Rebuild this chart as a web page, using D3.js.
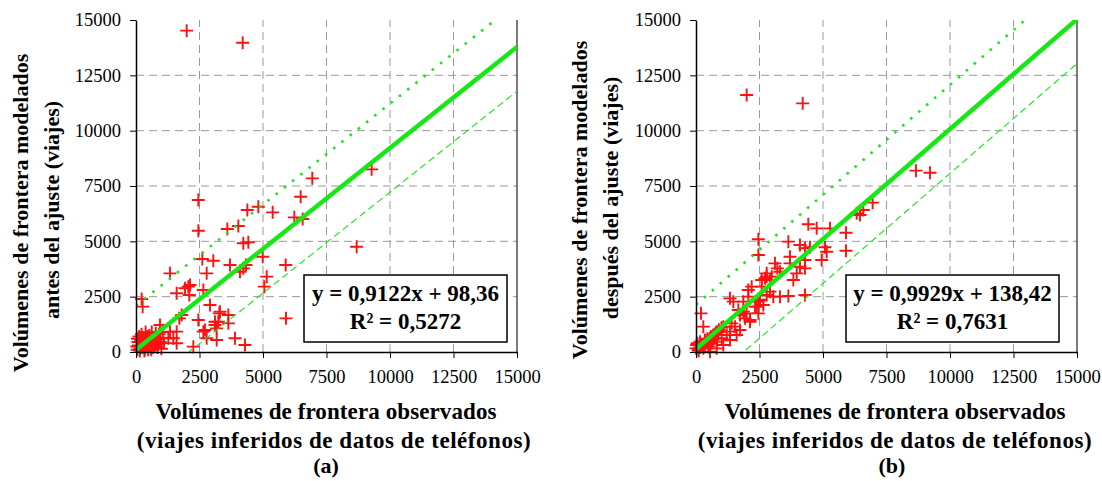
<!DOCTYPE html>
<html>
<head>
<meta charset="utf-8">
<script src="https://cdn.jsdelivr.net/npm/d3@7"></script>
<style>
  body { margin: 0; background: #fff; }
  svg { display: block; }
</style>
</head>
<body>
<svg id="chart" width="1102" height="481"></svg>
<script>
// Shared axis ticks (trips)
const axisTicks = [0, 2500, 5000, 7500, 10000, 12500, 15000];

// Panel (a): modelled border volumes before adjustment vs. observed (phone-inferred) volumes
const obsA = [
  1995, 4200, 9278, 6941, 2454, 6483, 4816, 4383, 5381, 6233, 6562, 3595, 4029, 2454, 4225, 4422,
  8688, 4988, 2612, 3044, 3701, 4331, 5894, 2783, 4094, 4225, 1339, 5145, 5052, 2126, 1929, 1601,
  2100, 2651, 2060, 224, 262, 2913, 3281, 3635, 3307, 1798, 1706, 2454, 3110, 3240, 3635, 5906,
  945, 3176, 3110, 2651, 1601, 2783, 3898, 4291, 2257, 1601, 1273, 1470, 2717, 3176, 1339,
  50, 100, 150, 200, 250, 300, 350, 400, 450, 500, 550, 600, 650, 700, 750, 800, 850, 900, 950, 1000,
  120, 180, 80, 30, 220, 280, 330, 380, 420, 480, 520, 580, 620, 680, 720, 780, 820, 880, 940, 1050,
  1100, 60, 160, 260, 360
];
const modA = [
  14518, 13975, 8253, 7845, 6867, 7017, 6565, 6415, 6310, 6084, 6009, 5557, 5693, 5480, 4911, 4956,
  4757, 4306, 4202, 4125, 3931, 3931, 3931, 3554, 3628, 3780, 3554, 3404, 2952, 3027, 2877, 2651,
  2575, 2801, 2952, 2395, 2048, 2123, 1747, 1672, 1822, 1672, 1521, 1446, 1370, 1370, 1295, 1521,
  1220, 1069, 1220, 919, 919, 618, 618, 316, 241, 392, 618, 618, 994, 542, 919,
  100, 300, 50, 450, 200, 600, 150, 350, 700, 250, 500, 100, 400, 650, 300, 550, 200, 800, 450, 150,
  700, 550, 450, 250, 800, 350, 50, 900, 550, 100, 750, 350, 900, 200, 450, 850, 600, 350, 650, 900,
  400, 600, 150, 650, 450
];

// Panel (b): modelled border volumes after adjustment vs. observed volumes
const obsB = [
  1995, 4200, 8661, 9213, 6955, 6587, 6325, 6457, 4422, 4751, 5276, 5906, 2454, 3635, 4094, 4291,
  4488, 5079, 5145, 4948, 5906, 2454, 3701, 4094, 4291, 3964, 3202, 2980, 2783, 3832, 2586, 2717,
  2192, 2060, 2913, 3044, 3307, 3635, 4291, 2520, 2651, 2323, 2454, 1339, 1470, 1863, 2060, 1667,
  1732, 1863, 2126, 197, 289, 2126, 1929, 1732, 1535, 1339, 1208, 1012, 815, 618, 486, 289, 92,
  1995, 1404, 1076, 879, 682, 551, 354, 157, 26, 0, 1076, 815, 551, 1339, 1601, 2389, 2454, 2783,
  2586, 2913, 2783, 3307, 3110, 3701, 4291,
  100, 200, 300, 400, 500, 600, 700, 800, 900, 1000, 150, 350, 450, 650, 750, 50
];
const modB = [
  11611, 11235, 8193, 8102, 6747, 6415, 6265, 6190, 5769, 5587, 5587, 5391, 5091, 4986, 4834, 4685,
  4730, 4730, 4531, 4157, 4577, 4382, 4306, 3854, 3780, 3554, 3780, 3404, 3404, 3253, 3253, 3329,
  2952, 2801, 2726, 2500, 2500, 2530, 2575, 2349, 2123, 2048, 1747, 2425, 2274, 2274, 2500, 1898,
  1672, 1822, 1446, 1747, 1145, 1370, 1521, 994, 1145, 919, 768, 618, 467, 392, 241, 166, 90,
  1747, 1295, 1145, 919, 768, 618, 542, 467, 316, 166, 316, 166, 15, 542, 768, 2048, 2274, 2575,
  2952, 3253, 3554, 3628, 4005, 4005, 4157,
  50, 300, 250, 450, 400, 700, 600, 900, 1000, 1100, 200, 350, 600, 550, 800, 400
];

// Linear fits and the ±2000-trip band drawn around them
const fitSlopes = [0.9122, 0.9929];
const fitIntercepts = [98.36, 138.42];
const bandOffset = 2000;
const fitLabels = ["y = 0,9122x + 98,36", "y = 0,9929x + 138,42"];
const r2Labels = ["R² = 0,5272", "R² = 0,7631"];

// Axis titles and panel captions
const yTitles = [
  ["Volúmenes de frontera modelados", "antes del ajuste (viajes)"],
  ["Volúmenes de frontera modelados", "después del ajuste (viajes)"]
];
const xTitle = ["Volúmenes de frontera observados", "(viajes inferidos de datos de teléfonos)"];
const captions = ["(a)", "(b)"];

const svg = d3.select("#chart");
const serif = "'Liberation Serif', 'Times New Roman', serif";
const green = "#16e816";
const red = "#ff1010";

const panels = [
  { obs: obsA, mod: modA, left: 136, titleX: [20, 51], titleY: [213, 210],
    xTitleCx: [326, 334], captionCx: 326, box: [304, 275, 203, 67] },
  { obs: obsB, mod: modB, left: 696, titleX: [579, 610], titleY: [200, 198],
    xTitleCx: [895, 895], captionCx: 892, box: [846, 275, 213, 67] }
];
const plotTop = 20, plotBottom = 352, plotWidth = 381;

panels.forEach((p, i) => {
  const x = d3.scaleLinear().domain([0, 15000]).range([p.left, p.left + plotWidth]);
  const y = d3.scaleLinear().domain([0, 15000]).range([plotBottom, plotTop]);
  const g = svg.append("g");

  const clipId = "clip" + i;
  svg.append("clipPath").attr("id", clipId)
    .append("rect").attr("x", x(0)).attr("y", y(15000))
    .attr("width", plotWidth).attr("height", plotBottom - plotTop);

  // dashed grid
  const inner = axisTicks.filter(t => t > 0 && t < 15000);
  g.selectAll(".hgrid").data(inner).join("line")
    .attr("x1", x(0)).attr("x2", x(15000)).attr("y1", d => y(d)).attr("y2", d => y(d))
    .attr("stroke", "#9a9a9a").attr("stroke-width", 1).attr("stroke-dasharray", "8,5");
  g.selectAll(".vgrid").data(inner).join("line")
    .attr("y1", y(0)).attr("y2", y(15000)).attr("x1", d => x(d)).attr("x2", d => x(d))
    .attr("stroke", "#9a9a9a").attr("stroke-width", 1).attr("stroke-dasharray", "8,5");

  // right frame line
  g.append("line").attr("x1", x(15000)).attr("x2", x(15000)).attr("y1", y(15000)).attr("y2", y(0))
    .attr("stroke", "#222").attr("stroke-width", 1.2);

  // observations as red crosses
  const pts = p.obs.map((v, k) => [v, p.mod[k]]);
  const arm = 6.5;
  const cross = g.append("g").attr("stroke", red).attr("stroke-width", 1.9).attr("fill", "none");
  cross.selectAll("path").data(pts).join("path")
    .attr("d", d => {
      const cx = x(d[0]), cy = y(d[1]);
      return `M${cx - arm},${cy}H${cx + arm}M${cx},${cy - arm}V${cy + arm}`;
    });

  // fit line and band
  const fit = v => fitSlopes[i] * v + fitIntercepts[i];
  const lineGen = d3.line().x(d => x(d[0])).y(d => y(d[1]));
  const xs = [0, 15000];
  const lines = g.append("g").attr("clip-path", `url(#${clipId})`).attr("fill", "none");
  lines.append("path").attr("d", lineGen(xs.map(v => [v, fit(v) + bandOffset])))
    .attr("stroke", green).attr("stroke-width", 2.6).attr("stroke-dasharray", "2.5,8");
  lines.append("path").attr("d", lineGen(xs.map(v => [v, fit(v) - bandOffset])))
    .attr("stroke", green).attr("stroke-width", 1.1).attr("stroke-dasharray", "7,4");
  lines.append("path").attr("d", lineGen(xs.map(v => [v, fit(v)])))
    .attr("stroke", green).attr("stroke-width", 4.5);

  // axes
  const yAxis = d3.axisLeft(y).tickValues(axisTicks).tickFormat(d3.format("d"))
    .tickSize(6).tickSizeOuter(0).tickPadding(9);
  const xAxis = d3.axisBottom(x).tickValues(axisTicks).tickFormat(d3.format("d"))
    .tickSize(6).tickSizeOuter(0).tickPadding(12);
  const ya = g.append("g").attr("transform", `translate(${x(0)},0)`).call(yAxis);
  const xa = g.append("g").attr("transform", `translate(0,${y(0)})`).call(xAxis);
  [ya, xa].forEach(a => {
    a.select(".domain").attr("stroke", "#000").attr("stroke-width", 1.5);
    a.selectAll(".tick line").attr("stroke", "#000").attr("stroke-width", 1);
    a.selectAll("text").attr("font-family", serif).attr("font-size", 18.5).attr("fill", "#000");
  });

  // equation box
  const [bx, by, bw, bh] = p.box;
  g.append("rect").attr("x", bx).attr("y", by).attr("width", bw).attr("height", bh)
    .attr("fill", "#fff").attr("stroke", "#000").attr("stroke-width", 1.5);
  const bt = g.append("text").attr("font-family", serif).attr("font-weight", "bold")
    .attr("font-size", 23).attr("text-anchor", "middle").attr("fill", "#000");
  bt.append("tspan").attr("x", bx + bw / 2).attr("y", by + 26).text(fitLabels[i]);
  bt.append("tspan").attr("x", bx + bw / 2).attr("y", by + 54).text(r2Labels[i]);

  // y-axis title (two lines, rotated)
  yTitles[i].forEach((t, k) => {
    g.append("text")
      .attr("transform", `translate(${p.titleX[k]},${p.titleY[k]}) rotate(-90)`)
      .attr("dy", "0.35em").attr("text-anchor", "middle")
      .attr("font-family", serif).attr("font-weight", "bold").attr("font-size", 22)
      .attr("fill", "#000").text(t);
  });

  // x-axis title and caption
  xTitle.forEach((t, k) => {
    g.append("text").attr("x", p.xTitleCx[k]).attr("y", 419 + k * 29)
      .attr("text-anchor", "middle").attr("font-family", serif).attr("font-weight", "bold")
      .attr("font-size", 23).attr("letter-spacing", k === 1 ? 0.55 : 0.1)
      .attr("fill", "#000").text(t);
  });
  g.append("text").attr("x", p.captionCx).attr("y", 473).attr("text-anchor", "middle")
    .attr("font-family", serif).attr("font-weight", "bold").attr("font-size", 22)
    .attr("fill", "#000").text(captions[i]);
});
</script>
</body>
</html>
